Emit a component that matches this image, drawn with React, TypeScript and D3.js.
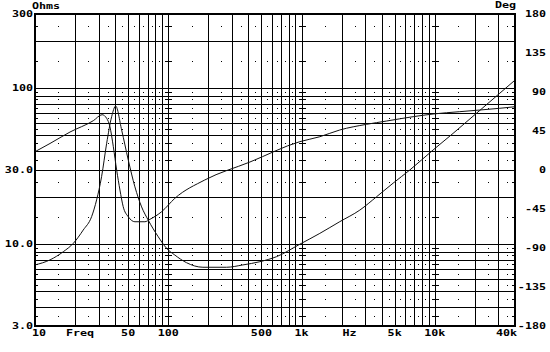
import React from "react";
import * as d3 from "d3";

const impFreq = [10, 12.96, 16.3, 19.4, 23.0, 26.6, 29.0, 31.6, 34.5, 37.6, 40.3, 44.7, 50.1, 56.2, 63.1, 70.8, 84.1, 97.2, 112, 137, 182, 274, 363, 487, 650, 971, 1372, 1939, 2739, 3655, 4868, 6494, 9710, 13720, 20550, 30720, 40000];
const impOhms = [7.39, 7.96, 8.98, 10.17, 12.36, 15.07, 19.3, 27.2, 44.5, 65.9, 77.1, 54.1, 34.8, 23.4, 17.4, 14.3, 11.2, 9.44, 8.55, 7.64, 7.14, 7.14, 7.39, 7.75, 8.35, 10.03, 11.77, 14.0, 16.6, 20.2, 24.7, 30, 40.3, 51.5, 69.3, 93.1, 113];

const phaseFreq = [10, 12.96, 18.3, 27.4, 31.9, 34.5, 36.5, 38.7, 41.0, 43.4, 45.9, 50.1, 56.2, 66.8, 72.9, 89.2, 112, 188, 410, 971, 1372, 1939, 3074, 4343, 6877, 9710, 15400, 21750, 30720, 40000];
const phaseDeg = [21.1, 30.6, 43.8, 56.9, 63.8, 59.6, 50.0, 26.9, 0, -23.1, -42.3, -53.9, -59.7, -59.7, -56.9, -48.1, -32.7, -11.5, 9.2, 32.7, 38.4, 46.2, 52.7, 56.5, 61.5, 64.6, 67.3, 69.2, 71.2, 73.0];

const ohmTicks = [300, 100, 30, 10, 3];
const ohmTickLabels = ["300", "100", "30.0", "10.0", "3.0"];
const degTicks = [180, 135, 90, 45, 0, -45, -90, -135, -180];
const freqTicks = [10, 50, 100, 500, 1000, 5000, 10000, 40000];
const freqTickLabels = ["10", "50", "100", "500", "1k", "5k", "10k", "40k"];

const W = 550, H = 352;
const L = 35, R = 515, T = 14, B = 326;

const x = d3.scaleLog().domain([10, 40000]).range([L, R]);
const yZ = d3.scaleLog().domain([3, 300]).range([B, T]);
const yP = d3.scaleLinear().domain([-180, 180]).range([B, T]);

const decades = [10, 100, 1000, 10000];
const vGrid: number[] = [];
decades.forEach((d) => { for (let m = 1; m <= 9; m++) { const v = d * m; if (v > 10 && v < 40000) vGrid.push(v); } });
const hGrid: number[] = [4, 5, 6, 7, 8, 9, 10, 20, 30, 40, 50, 60, 70, 80, 90, 100, 200];
const dotX: number[] = [];
decades.forEach((d) => { for (let m = 1.5; m < 10; m += 1) { const v = d * m; if (v < 40000) dotX.push(v); } });
const dotY: number[] = [3.5, 4.5, 5.5, 6.5, 7.5, 8.5, 9.5, 15, 25, 35, 45, 55, 65, 75, 85, 95, 150, 250];
const decadeLines = [100, 1000, 10000];

const font = "'DejaVu Sans Mono', monospace";
const Txt = ({ x: tx, y: ty, anchor, children }: any) => (
  <text transform={`translate(${tx},${ty}) scale(1.3,1)`} textAnchor={anchor} fontFamily={font} fontWeight="bold" fontSize={9} fill="#000">
    {children}
  </text>
);

export default function App() {
  const impLine = d3.line<number>().x((_, i) => x(impFreq[i])).y((v) => yZ(v)).curve(d3.curveMonotoneX);
  const phLine = d3.line<number>().x((_, i) => x(phaseFreq[i])).y((v) => yP(v)).curve(d3.curveMonotoneX);
  const px = (v: number) => Math.round(x(v)) + 0.5;
  const py = (v: number) => Math.round(yZ(v)) + 0.5;
  return (
    <svg width={W} height={H} style={{ position: "absolute", left: 0, top: 0, background: "#fff" }}>
      <rect x={0} y={0} width={W} height={H} fill="#fff" />
      <g stroke="#000" strokeWidth={1} shapeRendering="crispEdges">
        {vGrid.map((v) => <line key={"v" + v} x1={px(v)} x2={px(v)} y1={T} y2={B} />)}
        {hGrid.map((v) => <line key={"h" + v} x1={L} x2={R} y1={py(v)} y2={py(v)} />)}
        {decadeLines.map((d) => dotY.map((v) => (
          <line key={"dd" + d + "_" + v} x1={px(d) - 3} x2={px(d) + 3} y1={py(v)} y2={py(v)} />
        )))}
        {dotY.map((v) => <line key={"lt" + v} x1={L} x2={L + 3} y1={py(v)} y2={py(v)} />)}
        {dotY.map((v) => <line key={"rt" + v} x1={R - 3} x2={R} y1={py(v)} y2={py(v)} />)}
      </g>
      <g fill="#000">
        {dotX.map((fx) => dotY.map((v) => (
          <rect key={"d" + fx + "_" + v} x={Math.round(x(fx))} y={Math.round(yZ(v))} width={1} height={1} />
        )))}
      </g>
      <path d={impLine(impOhms) || ""} fill="none" stroke="#111" strokeWidth={1} />
      <path d={phLine(phaseDeg) || ""} fill="none" stroke="#111" strokeWidth={1} />
      <rect x={L} y={T} width={R - L} height={B - T} fill="none" stroke="#000" strokeWidth={2} />
      <Txt x={32} y={8.5} anchor="start">Ohms</Txt>
      <Txt x={516} y={8} anchor="end">Deg</Txt>
      {ohmTicks.map((v, i) => <Txt key={"ol" + v} x={33} y={yZ(v) + 3} anchor="end">{ohmTickLabels[i]}</Txt>)}
      {degTicks.map((v) => <Txt key={"dl" + v} x={546} y={yP(v) + 3} anchor="end">{String(v)}</Txt>)}
      {freqTicks.map((v, i) => (
        <Txt key={"fl" + v} x={i === 0 ? 32 : i === freqTicks.length - 1 ? 517 : x(v)} y={336} anchor={i === 0 ? "start" : i === freqTicks.length - 1 ? "end" : "middle"}>
          {freqTickLabels[i]}
        </Txt>
      ))}
      <Txt x={80} y={336} anchor="middle">Freq</Txt>
      <Txt x={349.5} y={336} anchor="middle">Hz</Txt>
    </svg>
  );
}
